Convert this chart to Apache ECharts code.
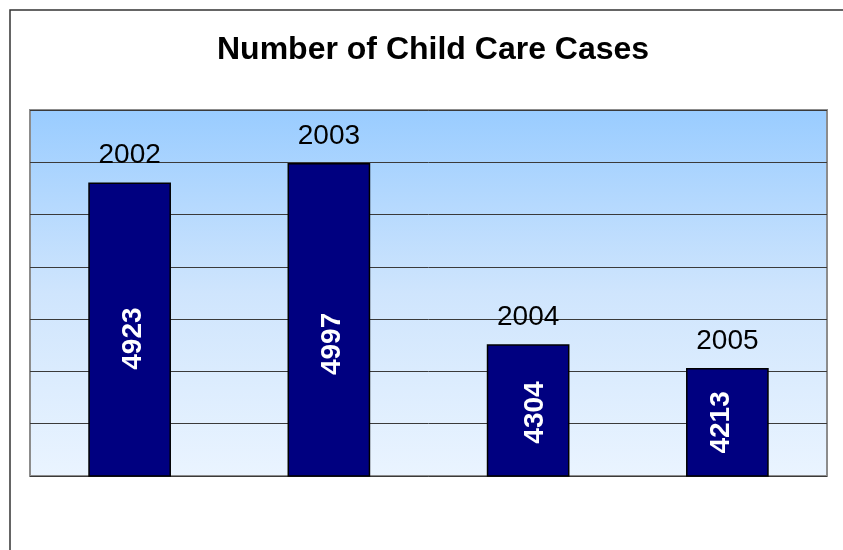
<!DOCTYPE html>
<html><head><meta charset="utf-8">
<script src="https://cdn.jsdelivr.net/npm/echarts@6/dist/echarts.min.js"></script>
<style>html,body{margin:0;padding:0;background:#fff}#c{width:843px;height:550px}</style>
</head><body><div id="c"></div>
<script>
const years = ['2002', '2003', '2004', '2005'];
const cases = [4923, 4997, 4304, 4213];
const yMin = 3800, yMax = 5200, yStep = 200;

// small nudges (px) of the in-bar labels, as in the reference layout
const labelNudgeDown = [9, 24, 2, 0];
const labelNudgeRight = [3.5, 3, 7, -6];

const chart = echarts.init(document.getElementById('c'), null, {renderer: 'canvas'});
chart.setOption({
  animation: false,
  backgroundColor: '#ffffff',
  textStyle: {fontFamily: 'Liberation Sans, Arial, sans-serif'},
  title: {
    text: 'Number of Child Care Cases',
    left: 212, top: 29,
    textStyle: {fontFamily: 'Liberation Sans, Arial, sans-serif', fontSize: 32, fontWeight: 'bold', color: '#000'}
  },
  graphic: [{
    type: 'rect', silent: true, z: -1,
    shape: {x: 10, y: 10, width: 900, height: 700},
    style: {fill: 'none', stroke: '#333333', lineWidth: 1.5}
  }],
  grid: {
    left: 30, top: 110, right: 16, bottom: 74, show: true,
    borderColor: '#8c8c8c', borderWidth: 2,
    backgroundColor: new echarts.graphic.LinearGradient(0, 0, 0, 1, [
      {offset: 0, color: '#99ccff'},
      {offset: 0.5, color: '#cfe5fd'},
      {offset: 1, color: '#eaf4ff'}
    ])
  },
  xAxis: {
    type: 'category', data: years,
    axisLine: {show: false}, axisTick: {show: false}, axisLabel: {show: false}
  },
  yAxis: {
    type: 'value', min: yMin, max: yMax, interval: yStep,
    axisLine: {show: false}, axisTick: {show: false}, axisLabel: {show: false},
    splitLine: {show: true, lineStyle: {color: '#3a3a3a', width: 1}}
  },
  series: [{
    type: 'bar',
    data: cases.map((v, i) => ({value: v, label: {offset: [-labelNudgeDown[i], labelNudgeRight[i]]}})),
    barWidth: '41.5%',
    itemStyle: {color: '#000080', borderColor: '#000000', borderWidth: 1.5},
    label: {
      show: true, position: 'inside', rotate: 90,
      formatter: p => String(p.value),
      color: '#ffffff', fontSize: 28, fontWeight: 'bold',
      fontFamily: 'Liberation Sans, Arial, sans-serif'
    }
  }, {
    type: 'bar', data: cases, barWidth: '41.5%', barGap: '-100%',
    itemStyle: {color: 'transparent'}, silent: true,
    label: {
      show: true, position: 'top', distance: 13,
      formatter: p => years[p.dataIndex],
      color: '#000000', fontSize: 28,
      fontFamily: 'Liberation Sans, Arial, sans-serif'
    }
  }]
});
</script></body></html>
